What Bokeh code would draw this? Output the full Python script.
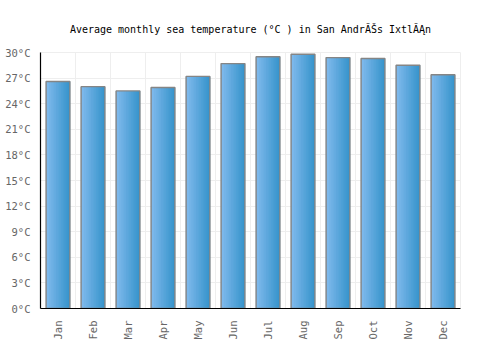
from bokeh.plotting import figure
from bokeh.models import FixedTicker, Range1d, Grid, ColumnDataSource
from bokeh.embed import file_html
from bokeh.resources import INLINE
import math

months = ["Jan", "Feb", "Mar", "Apr", "May", "Jun", "Jul", "Aug", "Sep", "Oct", "Nov", "Dec"]
temps = [26.6, 26.0, 25.5, 25.9, 27.2, 28.7, 29.5, 29.8, 29.4, 29.3, 28.5, 27.4]
y_ticks = [0, 3, 6, 9, 12, 15, 18, 21, 24, 27, 30]
y_tick_labels = ["0°C", "3°C", "6°C", "9°C", "12°C", "15°C", "18°C", "21°C", "24°C", "27°C", "30°C"]
title_text = "Average monthly sea temperature (°C ) in San Andr\u0102\u0160s Ixtl\u0102\u0104n"

FONT = "DejaVu Sans Mono"

p = figure(width=500, height=350, output_backend="svg", toolbar_location=None,
           x_range=Range1d(0, len(months)), y_range=Range1d(0, 30),
           min_border_left=40, min_border_right=40, min_border_top=52, min_border_bottom=42)

p.title.text = title_text
p.title.align = "center"
p.title.text_font = FONT
p.title.text_font_size = "10px"
p.title.text_font_style = "normal"
p.title.text_color = "#000000"
p.title.standoff = 36

centers = [i + 0.5 for i in range(len(months))]
bar_w = 0.68
n_strips = 14
c0 = (0x80, 0xBA, 0xEC)
c1 = (0x38, 0x94, 0xCC)

src_base = ColumnDataSource(dict(x=centers, top=temps))
p.vbar(x="x", top="top", bottom=0, width=bar_w, source=src_base,
       fill_color="#5ca7dc", line_color=None)
for k in range(n_strips):
    t = k / (n_strips - 1)
    col = "#%02x%02x%02x" % tuple(int(round(a + (b - a) * t)) for a, b in zip(c0, c1))
    off = -bar_w / 2 + (k + 0.5) * bar_w / n_strips
    src = ColumnDataSource(dict(x=[c + off for c in centers], top=temps))
    p.vbar(x="x", top="top", bottom=0, width=bar_w / n_strips * 1.3, source=src,
           fill_color=col, line_color=None)

src_o = ColumnDataSource(dict(x=centers, top=temps))
p.vbar(x="x", top="top", bottom=0, width=bar_w, source=src_o,
       fill_color=None, line_color="#858585", line_width=1.4)

# grids
p.xgrid.visible = False
p.add_layout(Grid(dimension=0, ticker=FixedTicker(ticks=list(range(len(months) + 1))),
                  grid_line_color="#eeeeee", grid_line_width=1), "center")
p.ygrid.ticker = FixedTicker(ticks=y_ticks)
p.ygrid.grid_line_color = "#eeeeee"
p.outline_line_color = "#eeeeee"

# axes
p.xaxis.ticker = FixedTicker(ticks=centers)
p.xaxis.major_label_overrides = {c: m for c, m in zip(centers, months)}
p.xaxis.major_label_orientation = math.pi / 2
p.yaxis.ticker = FixedTicker(ticks=y_ticks)
p.yaxis.major_label_overrides = {t: l for t, l in zip(y_ticks, y_tick_labels)}
for ax in (p.xaxis, p.yaxis):
    ax.axis_line_color = "#000000"
    ax.axis_line_width = 1.2
    ax.major_tick_line_color = None
    ax.minor_tick_line_color = None
    ax.major_label_text_font = FONT
    ax.major_label_text_font_size = "10.5px"
    ax.major_label_text_color = "#666666"
p.xaxis.major_label_standoff = 6
p.yaxis.major_label_standoff = 4

open("out.html", "w").write(file_html(p, INLINE))
